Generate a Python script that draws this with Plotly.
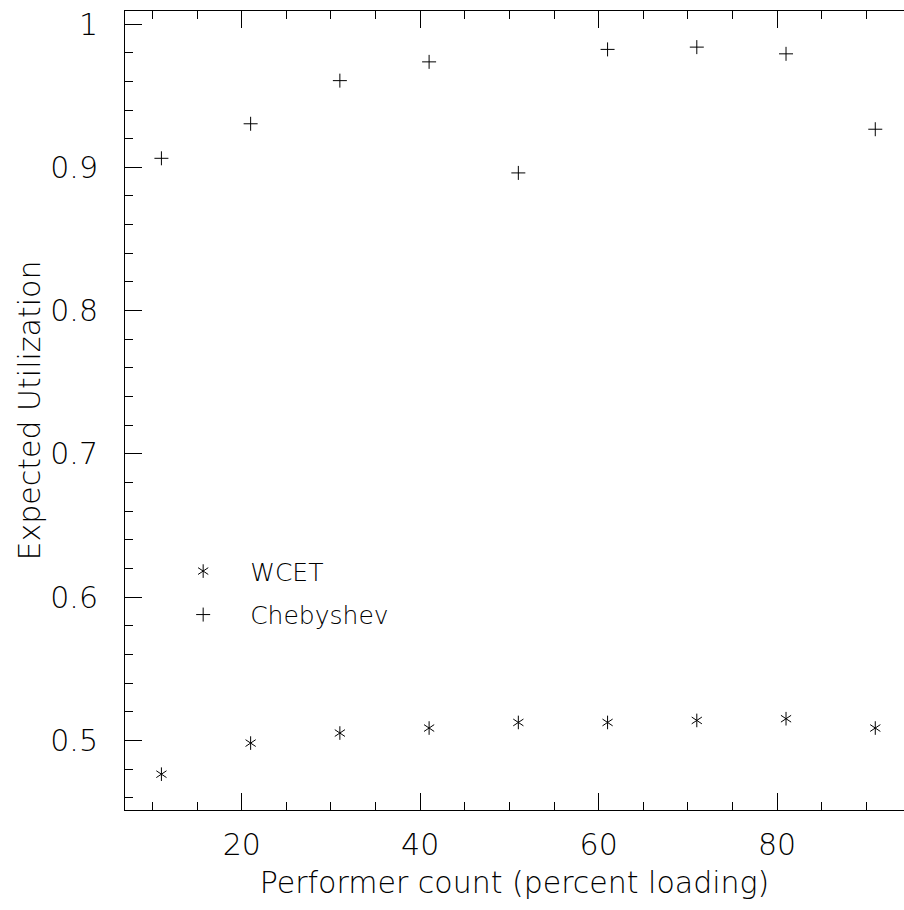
import plotly.graph_objects as go

# Data
loading = [11, 21, 31, 41, 51, 61, 71, 81, 91]
wcet = [0.4765, 0.4982, 0.5052, 0.5087, 0.5126, 0.5126, 0.5140, 0.5152, 0.5087]
chebyshev = [0.9063, 0.9304, 0.9605, 0.9736, 0.8961, 0.9823, 0.9839, 0.9792, 0.9266]

x_range = [6.92, 94.22]
y_range = [0.4515, 1.0091]
x_title = "Performer count (percent loading)"
y_title = "Expected Utilization"

FONT = "DejaVu Sans Light, DejaVu Sans, sans-serif"
WEIGHT = 200
BLACK = "black"

fig = go.Figure()

# WCET asterisk drawn as two overlaid 3-armed symbols (six arms)
fig.add_trace(go.Scatter(
    x=loading, y=wcet, mode="markers", name="WCET",
    legend="legend", legendgroup="w",
    marker=dict(symbol="y-up", size=8.5, color=BLACK, line=dict(width=1, color=BLACK)),
    hoverinfo="x+y",
))
fig.add_trace(go.Scatter(
    x=loading, y=wcet, mode="markers", name="WCET",
    legend="legend2", legendgroup="w2",
    marker=dict(symbol="y-down", size=8.5, color=BLACK, line=dict(width=1, color=BLACK)),
    hoverinfo="skip",
))
fig.add_trace(go.Scatter(
    x=loading, y=chebyshev, mode="markers", name="Chebyshev",
    legend="legend", legendgroup="c",
    marker=dict(symbol="cross-thin", size=10, color=BLACK, line=dict(width=1, color=BLACK)),
    hoverinfo="x+y",
))

legend_common = dict(
    x=0.04, y=0.3275, xanchor="left", yanchor="top",
    itemwidth=84, bgcolor="rgba(0,0,0,0)", borderwidth=0,
    tracegroupgap=8,
)

fig.update_layout(
    width=904, height=910, autosize=False,
    margin=dict(l=125, r=0, t=11, b=100),
    paper_bgcolor="white", plot_bgcolor="white",
    font=dict(family=FONT, size=30, color=BLACK, weight=WEIGHT),
    showlegend=True,
    legend=dict(**legend_common, font=dict(family=FONT, size=25, color=BLACK, weight=WEIGHT)),
    legend2=dict(**legend_common, font=dict(family=FONT, size=25, color="rgba(0,0,0,0)", weight=WEIGHT)),
    xaxis=dict(
        range=x_range, showgrid=False, zeroline=False,
        showline=True, linecolor=BLACK, linewidth=1, mirror="ticks",
        ticks="inside", ticklen=17, tickwidth=1, tickcolor=BLACK,
        tick0=0, dtick=20,
        minor=dict(ticks="inside", ticklen=8, tickwidth=1, tickcolor=BLACK, dtick=5, tick0=0, showgrid=False),
        title=dict(text=x_title, font=dict(size=30, family=FONT, weight=WEIGHT), standoff=10),
        tickfont=dict(size=30, family=FONT, weight=WEIGHT), ticklabelstandoff=8,
    ),
    yaxis=dict(
        range=y_range, showgrid=False, zeroline=False,
        showline=True, linecolor=BLACK, linewidth=1, mirror=False,
        ticks="inside", ticklen=17, tickwidth=1, tickcolor=BLACK,
        tick0=0, dtick=0.1,
        minor=dict(ticks="inside", ticklen=8, tickwidth=1, tickcolor=BLACK, dtick=0.02, tick0=0, showgrid=False),
        title=dict(text=y_title, font=dict(size=30, family=FONT, weight=WEIGHT), standoff=0),
        tickfont=dict(size=30, family=FONT, weight=WEIGHT), ticklabelstandoff=20,
    ),
    yaxis2=dict(
        overlaying="y", side="right", range=y_range, matches="y",
        showgrid=False, zeroline=False, showline=False, showticklabels=False,
        ticks="inside", ticklen=10, tickwidth=1, tickcolor=BLACK,
        tick0=0, dtick=0.1,
        minor=dict(ticks="inside", ticklen=1, tickwidth=1, tickcolor=BLACK, dtick=0.02, tick0=0, showgrid=False),
    ),
)

fig.write_html("out.html")
